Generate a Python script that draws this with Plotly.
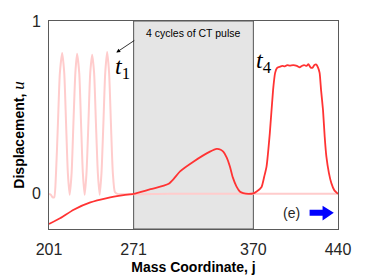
import plotly.graph_objects as go

# ---- data ----
t1_x = [201.0, 202.5, 204.0, 205.3, 206.8, 208.4, 210.0, 211.9, 213.6, 215.1, 216.6, 218.1,
        219.7, 221.2, 222.8, 224.2, 226.0, 227.5, 229.0, 230.5, 232.0, 233.6, 235.1, 236.7,
        238.3, 239.8, 241.4, 242.9, 244.4, 246.0, 247.5, 249.1, 250.7, 252.2, 253.8, 255.5,
        257.5, 300.0, 440.0]
t1_y = [0.00, -0.005, -0.02, -0.02, 0.12, 0.41, 0.70, 0.815, 0.70, 0.41, 0.12, -0.005,
        0.12, 0.41, 0.70, 0.81, 0.70, 0.41, 0.12, -0.005, 0.12, 0.41, 0.70, 0.805,
        0.70, 0.41, 0.12, -0.005, 0.12, 0.41, 0.70, 0.82, 0.70, 0.41, 0.12, 0.01,
        0.0, 0.0, 0.0]

t4_x = [201, 210.5, 221.4, 235.2, 249, 262.7, 271, 285, 296, 300, 304, 309.4, 320.4, 334.1,
        339.7, 343, 345.1, 348, 350.6, 353, 356.1, 359, 361.6, 366, 370, 373, 376.8, 379,
        380.9, 383.6, 386.3, 388, 389.5, 391.9, 394, 396, 398, 400.1, 403, 406, 408.3, 410,
        412, 414, 415.5, 417.5, 419, 420.5, 422.1, 423.5, 424.8, 426, 427.6, 429, 430.4,
        432.5, 434.5, 437, 440]
t4_y = [-0.175, -0.14, -0.092, -0.05, -0.025, -0.008, 0.0, 0.027, 0.047, 0.058, 0.085, 0.13, 0.186,
        0.244, 0.26, 0.255, 0.244, 0.21, 0.158, 0.095, 0.042, 0.012, 0.004, 0.0, 0.003,
        0.015, 0.04, 0.1, 0.158, 0.35, 0.6, 0.70, 0.728, 0.735, 0.74, 0.738, 0.745, 0.742,
        0.745, 0.74, 0.732, 0.74, 0.745, 0.74, 0.75, 0.73, 0.73, 0.745, 0.748, 0.73, 0.7,
        0.6, 0.485, 0.33, 0.215, 0.12, 0.062, 0.02, 0.0]

x_ticks = [201, 271, 370, 440]
y_ticks = [0, 1]
ct_region = [271, 370]

fig = go.Figure()
fig.add_trace(go.Scatter(x=t1_x, y=t1_y, mode="lines",
                         line=dict(color="#ffcccc", width=2, shape="spline", smoothing=0.6),
                         hoverinfo="skip", showlegend=False))
fig.add_trace(go.Scatter(x=t4_x, y=t4_y, mode="lines",
                         line=dict(color="#ff3333", width=1.8, shape="spline", smoothing=0.5),
                         hoverinfo="skip", showlegend=False))

fig.add_shape(type="rect", xref="x", yref="paper", x0=ct_region[0], x1=ct_region[1],
              y0=0, y1=1, fillcolor="#e5e5e5", line=dict(color="#555555", width=1),
              layer="below")

# blue arrow (decoration)
fig.add_shape(type="path", xref="paper", yref="paper",
              path="M 0.9017 0.0925 L 0.9466 0.0925 L 0.9466 0.1117 L 0.9855 0.0781 "
                   "L 0.9466 0.0412 L 0.9466 0.0638 L 0.9017 0.0638 Z",
              fillcolor="#0000ff", line=dict(width=0))

font_main = "Liberation Sans, Arial, sans-serif"
serif = "Liberation Serif, Times New Roman, serif"

ann = dict(xref="paper", yref="paper", xanchor="center", yanchor="middle", showarrow=False)
fig.add_annotation(**ann, x=0.5017, y=0.9425, text="4 cycles of CT pulse",
                   font=dict(family=font_main, size=10.5, color="#000000"))
fig.add_annotation(xref="paper", yref="paper", x=0.2328, y=0.8485, text=" ",
                   showarrow=True, ax=21, ay=-14, arrowhead=2, arrowsize=1, arrowwidth=0.8,
                   arrowcolor="#000000")
fig.add_annotation(**ann, x=0.2534, y=0.773, text="<i>t</i><sub>1</sub>",
                   font=dict(family=serif, size=24, color="#000000"))
fig.add_annotation(**ann, x=0.743, y=0.802, text="<i>t</i><sub>4</sub>",
                   font=dict(family=serif, size=24, color="#000000"))
fig.add_annotation(**ann, x=0.838, y=0.078, text="(e)",
                   font=dict(family=font_main, size=14, color="#262626"))
fig.add_annotation(**ann, x=-0.105, y=0.452, textangle=-90,
                   text="<b>Displacement, </b><span style=\"font-family:Liberation Serif;font-size:17px\"><i>u</i></span>",
                   font=dict(family=font_main, size=14, color="#000000"))

# page body has an 8px default margin, so margins are offset by 8px
fig.update_layout(
    width=374, height=280,
    margin=dict(l=40.5, r=43.5, t=12.7, b=58.7, autoexpand=False),
    paper_bgcolor="white", plot_bgcolor="white",
    xaxis=dict(range=[201, 440], tickvals=x_ticks, ticktext=[str(v) for v in x_ticks],
               showgrid=False, zeroline=False, ticks="", showline=True, mirror=True,
               linecolor="#5a5a5a", linewidth=1, ticklabelstandoff=6,
               tickfont=dict(family=font_main, size=16, color="#262626"),
               title=dict(text="<b>Mass Coordinate, j</b>", standoff=4,
                          font=dict(family=font_main, size=14, color="#000000"))),
    yaxis=dict(range=[-0.2035, 1.0], tickvals=y_ticks, ticktext=["0", "1"],
               showgrid=False, zeroline=False, ticks="", showline=True, mirror=True,
               linecolor="#5a5a5a", linewidth=1, ticklabelstandoff=4,
               tickfont=dict(family=font_main, size=16, color="#262626")),
)

fig.write_html("out.html")
